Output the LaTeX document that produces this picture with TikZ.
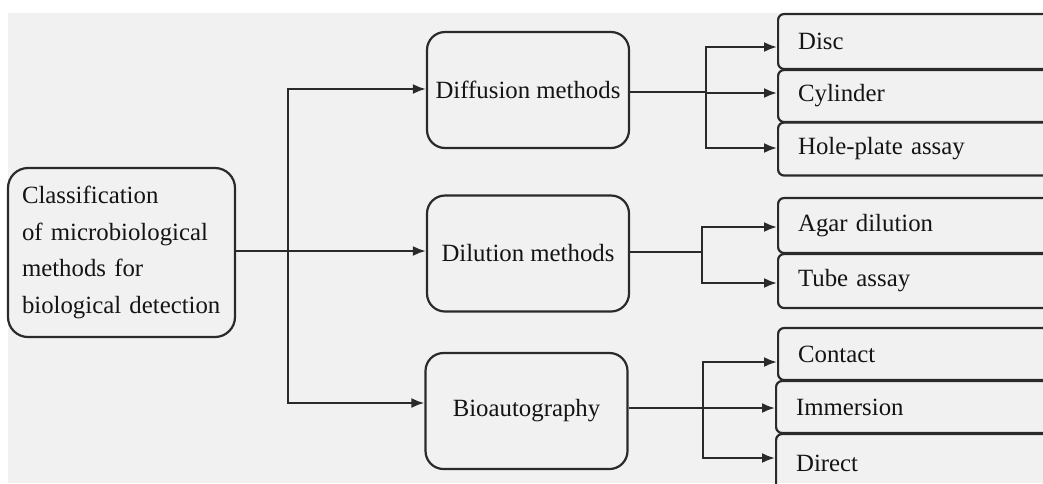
\documentclass[tikz,border=0pt]{standalone}
\usepackage{fontspec}
\setmainfont{Liberation Serif}
\usetikzlibrary{arrows.meta}
\definecolor{paper}{HTML}{F1F1F1}
\definecolor{ink}{HTML}{2A2A2A}
\begin{document}
\begin{tikzpicture}[x=0.5pt,y=-0.5pt,
  font=\fontsize{12.4}{18.3}\selectfont,
  every node/.style={text=black!92},
  rootbox/.style={draw=ink, line width=1.1pt, rounded corners=10pt,
    minimum width=113.5pt, minimum height=84.5pt, text width=99.5pt,
    inner xsep=7pt, align=left},
  methodbox/.style={draw=ink, line width=1.1pt, rounded corners=9pt,
    minimum width=101pt, minimum height=58pt, inner xsep=1pt},
  leafbox/.style={draw=ink, line width=1.1pt, rounded corners=3pt, anchor=west,
    text width=126.5pt, inner xsep=10pt, align=left},
  link/.style={draw=ink, line width=1.1pt},
  arrow/.style={link, -{Latex[length=6.5pt,width=5pt]}}
]
\useasboundingbox (0,0) rectangle (1043,483);
\clip (0,0) rectangle (1043,483);
% page background
\fill[white] (0,0) rectangle (1043,483);
\fill[paper] (8,13) rectangle (1043,483);

% root
\node[rootbox] (root) at (121.5,252.5)
  {Classification\\of microbiological\\methods for\\biological detection};

% method groups
\node[methodbox] (diff) at (528,90) {Diffusion methods};
\node[methodbox] (dil)  at (528,253.5) {Dilution methods};
\node[methodbox] (bio)  at (526.5,411) {Bioautography};

% leaves
\node[leafbox, minimum height=27.5pt] (disc) at (777,41.5) {Disc};
\node[leafbox, minimum height=26pt]   (cyl)  at (777,96) {Cylinder};
\node[leafbox, minimum height=26.5pt] (hole) at (777,149) {Hole-plate assay};
\node[leafbox, minimum height=27.5pt] (agar) at (777,225.5) {Agar dilution};
\node[leafbox, minimum height=27pt]   (tube) at (777,281) {Tube assay};
\node[leafbox, minimum height=26pt]   (cont) at (777,354) {Contact};
\node[leafbox, minimum height=26pt]   (imm)  at (775,407) {Immersion};
\node[leafbox, minimum height=29pt]   (dir)  at (775,463) {Direct};

% junctions
\coordinate (j0) at (288,251);
\coordinate (j1) at (706,92);
\coordinate (j2) at (702,252);
\coordinate (j3) at (703,408);

% root to methods
\draw[link] (root.east |- j0) -- (j0);
\draw[arrow] (j0) |- ([yshift=0.5pt]diff.west);
\draw[arrow] (j0) -- (j0 -| dil.west);
\draw[arrow] (j0) |- ([yshift=4pt]bio.west);

% diffusion branch
\draw[link] (diff.east |- j1) -- (j1);
\draw[arrow] (j1) |- ([yshift=-2.75pt]disc.west);
\draw[arrow] (j1) |- ([yshift=1.5pt]cyl.west);
\draw[arrow] (j1) |- ([yshift=0.5pt]hole.west);

% dilution branch
\draw[link] (dil.east |- j2) -- (j2);
\draw[arrow] (j2) |- ([yshift=-0.75pt]agar.west);
\draw[arrow] (j2) |- ([yshift=-1pt]tube.west);

% bioautography branch
\draw[link] (bio.east |- j3) -- (j3);
\draw[arrow] (j3) |- ([yshift=-4pt]cont.west);
\draw[arrow] (j3) |- ([yshift=-0.5pt]imm.west);
\draw[arrow] (j3) |- ([yshift=2.5pt]dir.west);
\end{tikzpicture}
\end{document}
